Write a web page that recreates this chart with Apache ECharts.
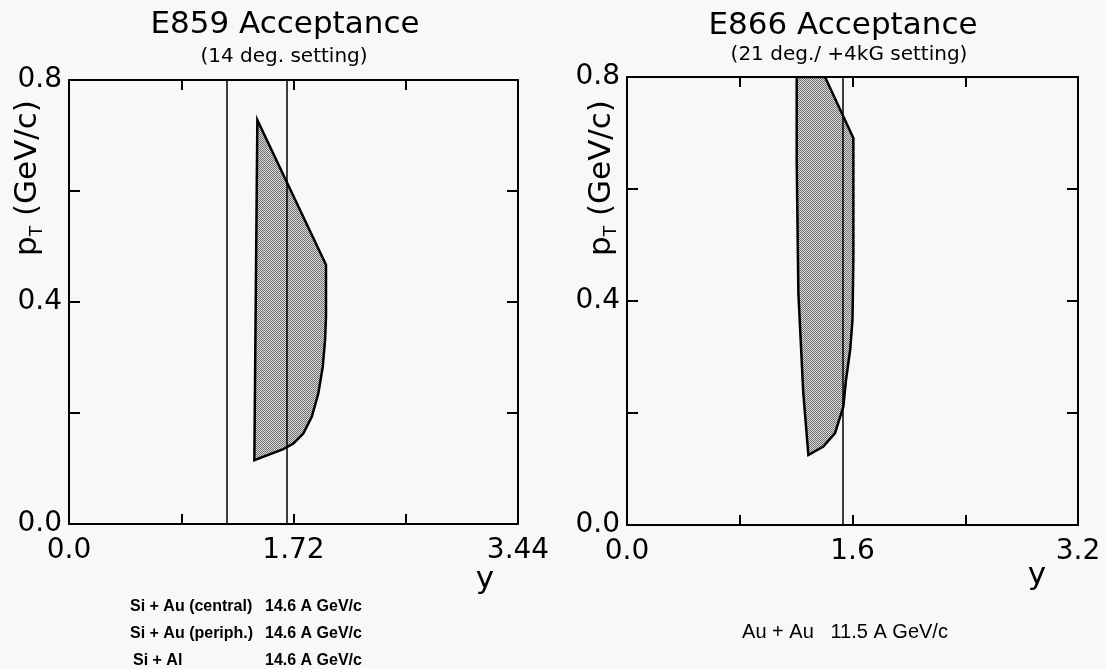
<!DOCTYPE html>
<html lang="en">
<head>
    <meta charset="UTF-8">
    <title>E859 / E866 Acceptance</title>
    <style>
        * {
            margin: 0;
            padding: 0;
        }

        html, body {
            height: 100%;
            width: 100%;
            background: #f8f8f8;
        }
    </style>
    <script src="https://cdn.jsdelivr.net/npm/echarts@6/dist/echarts.min.js"></script>
</head>
<body>

<div id="main" style="width: 1106px;height: 669px;"></div>

<script>
    // tick labels
    var yLabels = ['0.0', '0.4', '0.8'];
    var xLabelsE859 = ['0.0', '1.72', '3.44'];
    var xLabelsE866 = ['0.0', '1.6', '3.2'];

    // acceptance outlines, [y, pT]
    var e859Shape = [[1.443, 0.728], [1.969, 0.467], [1.969, 0.373], [1.962, 0.332], [1.944, 0.283],
        [1.910, 0.235], [1.860, 0.193], [1.795, 0.163], [1.719, 0.145], [1.642, 0.135], [1.420, 0.115]];
    var e866Shape = [[1.204, 0.8], [1.405, 0.8], [1.606, 0.691], [1.606, 0.473], [1.600, 0.366],
        [1.583, 0.312], [1.554, 0.259], [1.535, 0.211], [1.476, 0.164], [1.393, 0.140], [1.287, 0.125],
        [1.251, 0.235], [1.216, 0.414], [1.204, 0.652]];

    // vertical reference lines (y values)
    var e859Lines = [1.208, 1.668];
    var e866Lines = [1.535];

    var ink = '#000';
    var fontTick = 'DejaVu Sans';

    // halftone-ish fill
    var pat = document.createElement('canvas');
    pat.width = 2;
    pat.height = 2;
    var pctx = pat.getContext('2d');
    pctx.fillStyle = '#dadada';
    pctx.fillRect(0, 0, 2, 2);
    pctx.fillStyle = '#707070';
    pctx.fillRect(0, 0, 1, 1);
    pctx.fillRect(1, 1, 1, 1);

    function shapeRender(pts) {
        return function (params, api) {
            if (params.dataIndex !== 0) return;
            var points = pts.map(function (p) {
                return api.coord(p);
            });
            return {
                type: 'polygon',
                shape: {points: points},
                style: {fill: {image: pat, repeat: 'repeat'}, stroke: ink, lineWidth: 2.5}
            };
        };
    }

    function axisBase(grid, min, max, interval, pos, len) {
        return {
            type: 'value', gridIndex: grid, min: min, max: max, interval: interval, position: pos,
            axisLine: {show: true, onZero: false, lineStyle: {color: ink, width: 2}},
            axisTick: {show: true, inside: true, length: len, lineStyle: {color: ink, width: 2}},
            splitLine: {show: false},
            axisLabel: {show: false}
        };
    }

    function bottomAxis(grid, max, interval, labels) {
        var a = axisBase(grid, 0, max, interval, 'bottom', 10);
        a.axisLabel = {
            show: true, margin: 13, color: ink, fontSize: 28, fontFamily: fontTick,
            formatter: function (v, i) {
                return i % 2 === 0 ? labels[i / 2] : '';
            }
        };
        return a;
    }

    function leftAxis(grid) {
        var a = axisBase(grid, 0, 0.8, 0.2, 'left', 11);
        a.axisLabel = {
            show: true, margin: 7, color: ink, fontSize: 28, fontFamily: fontTick,
            formatter: function (v, i) {
                return i % 2 === 0 ? yLabels[i / 2] : '';
            }
        };
        return a;
    }

    function vLines(values) {
        return {
            silent: true,
            symbol: 'none',
            label: {show: false},
            lineStyle: {color: ink, width: 1.5, type: 'solid'},
            data: values.map(function (v) {
                return {xAxis: v};
            })
        };
    }

    var nameRich = {
        p: {fontSize: 31, fontFamily: fontTick, color: ink, lineHeight: 36},
        s: {fontSize: 17, fontFamily: fontTick, color: ink, verticalAlign: 'bottom', lineHeight: 17},
        n: {fontSize: 31, fontFamily: fontTick, color: ink, lineHeight: 36}
    };

    function txt(x, y, text, size, opts) {
        opts = opts || {};
        return {
            type: 'text', x: x, y: y, rotation: opts.rotation || 0, silent: true,
            style: {
                text: text, x: 0, y: 0, fill: ink,
                fontSize: size, fontFamily: opts.family || fontTick,
                fontWeight: opts.weight || 'normal',
                align: opts.align || 'center', verticalAlign: 'middle',
                rich: opts.rich
            }
        };
    }

    var myChart = echarts.init(document.getElementById('main'));

    var bold = {align: 'left', family: 'Liberation Sans', weight: 'bold'};

    var option = {
        backgroundColor: '#f8f8f8',
        animation: false,
        grid: [
            {left: 69, top: 80, width: 449, height: 444},
            {left: 627, top: 77, width: 451, height: 448}
        ],
        xAxis: [
            bottomAxis(0, 3.44, 0.86, xLabelsE859),
            axisBase(0, 0, 3.44, 0.86, 'top', 10),
            bottomAxis(1, 3.2, 0.8, xLabelsE866),
            axisBase(1, 0, 3.2, 0.8, 'top', 10)
        ],
        yAxis: [
            leftAxis(0),
            axisBase(0, 0, 0.8, 0.2, 'right', 11),
            leftAxis(1),
            axisBase(1, 0, 0.8, 0.2, 'right', 11)
        ],
        graphic: [
            txt(285, 25, 'E859 Acceptance', 31),
            txt(284, 57, '(14 deg. setting)', 20),
            txt(843, 26, 'E866 Acceptance', 31),
            txt(849, 55, '(21 deg./ +4kG setting)', 20),
            txt(28, 178, '{p|p}{s|T}{n| (GeV/c)}', 31, {rotation: Math.PI / 2, rich: nameRich}),
            txt(602, 178, '{p|p}{s|T}{n| (GeV/c)}', 31, {rotation: Math.PI / 2, rich: nameRich}),
            txt(485, 580, 'y', 31),
            txt(1037, 576, 'y', 31),
            txt(130, 607, 'Si + Au (central)', 16, bold),
            txt(265, 607, '14.6 A GeV/c', 16, bold),
            txt(130, 634, 'Si + Au (periph.)', 16, bold),
            txt(265, 634, '14.6 A GeV/c', 16, bold),
            txt(133, 661, 'Si + Al', 16, bold),
            txt(265, 661, '14.6 A GeV/c', 16, bold),
            txt(845, 632, 'Au + Au   11.5 A GeV/c', 20, {family: 'Liberation Sans'})
        ],
        series: [
            {
                name: 'E859',
                type: 'custom',
                xAxisIndex: 0,
                yAxisIndex: 0,
                data: e859Shape,
                renderItem: shapeRender(e859Shape),
                markLine: vLines(e859Lines)
            },
            {
                name: 'E866',
                type: 'custom',
                xAxisIndex: 2,
                yAxisIndex: 2,
                clip: true,
                data: e866Shape,
                renderItem: shapeRender(e866Shape),
                markLine: vLines(e866Lines)
            }
        ]
    };
    myChart.setOption(option);
</script>

</body>
</html>
